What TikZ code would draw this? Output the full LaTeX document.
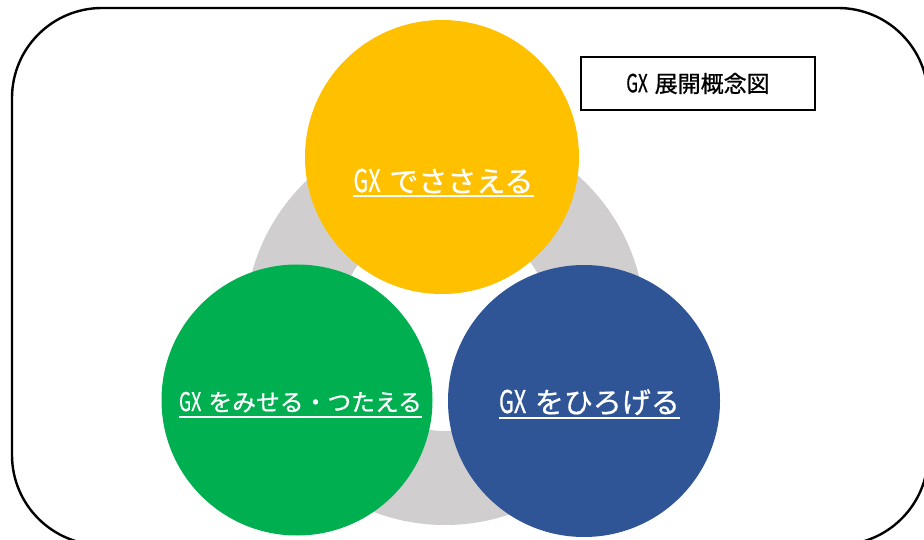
\documentclass[tikz,border=0pt]{standalone}
\usepackage{fontspec}
\newfontfamily\jp[FakeBold=0.8]{Noto Sans CJK JP}
\usetikzlibrary{positioning}
\definecolor{cyel}{HTML}{FFC000}
\definecolor{cgrn}{HTML}{00B050}
\definecolor{cblu}{HTML}{2F5597}
\definecolor{cgry}{HTML}{D0CECE}
\newcommand\gxw{\scalebox{0.74}[1.08]{GX}\hspace{0.3em}}
\tikzset{
  disc/.style={circle, inner sep=0pt, minimum size=#1},
  lbl/.style={font=\jp, text=white, inner sep=0pt, text depth=0pt, anchor=base},
  uline/.style={white, line width=2.4pt},
}
\begin{document}
\begin{tikzpicture}[x=1pt,y=-1pt]
\useasboundingbox (0,0) rectangle (924,540);
\clip (0,0) rectangle (924,540);
\fill[white] (0,0) rectangle (924,540);
% outer frame
\draw[line width=2.4pt, rounded corners=90pt] (12,8) rectangle (928,545);
% gray ring
\fill[cgry, even odd rule] (445,325) circle[radius=200pt] (445,325) circle[radius=106pt];
% circles
\node[disc=274pt, fill=cyel] (cy) at (442,157) {};
\node[disc=271pt, fill=cgrn] (cg) at (297,400) {};
\node[disc=272pt, fill=cblu] (cb) at (584,401) {};
% labels
\node[lbl, font=\jp\fontsize{29}{31}\selectfont] (ty) at (443.5,192) {\gxw でささえる};
\draw[uline] ([yshift=-4pt]ty.base west) -- ([yshift=-4pt]ty.base east);
\node[lbl, font=\jp\fontsize{29}{31}\selectfont] (tb) at (589.5,413) {\gxw をひろげる};
\draw[uline] ([yshift=-5pt]tb.base west) -- ([yshift=-5pt]tb.base east);
\node[lbl, font=\jp\fontsize{23.8}{25}\selectfont] (tg) at (300.5,411) {\gxw をみせる・つたえる};
\draw[uline] ([yshift=-6pt]tg.base west) -- ([yshift=-6pt]tg.base east);
% title box
\node[draw, line width=1.6pt, minimum width=234pt, minimum height=53pt, inner sep=0pt, font=\jp\fontsize{23}{25}\selectfont] (title) at (698,83.5) {\gxw 展開概念図};
\end{tikzpicture}
\end{document}
